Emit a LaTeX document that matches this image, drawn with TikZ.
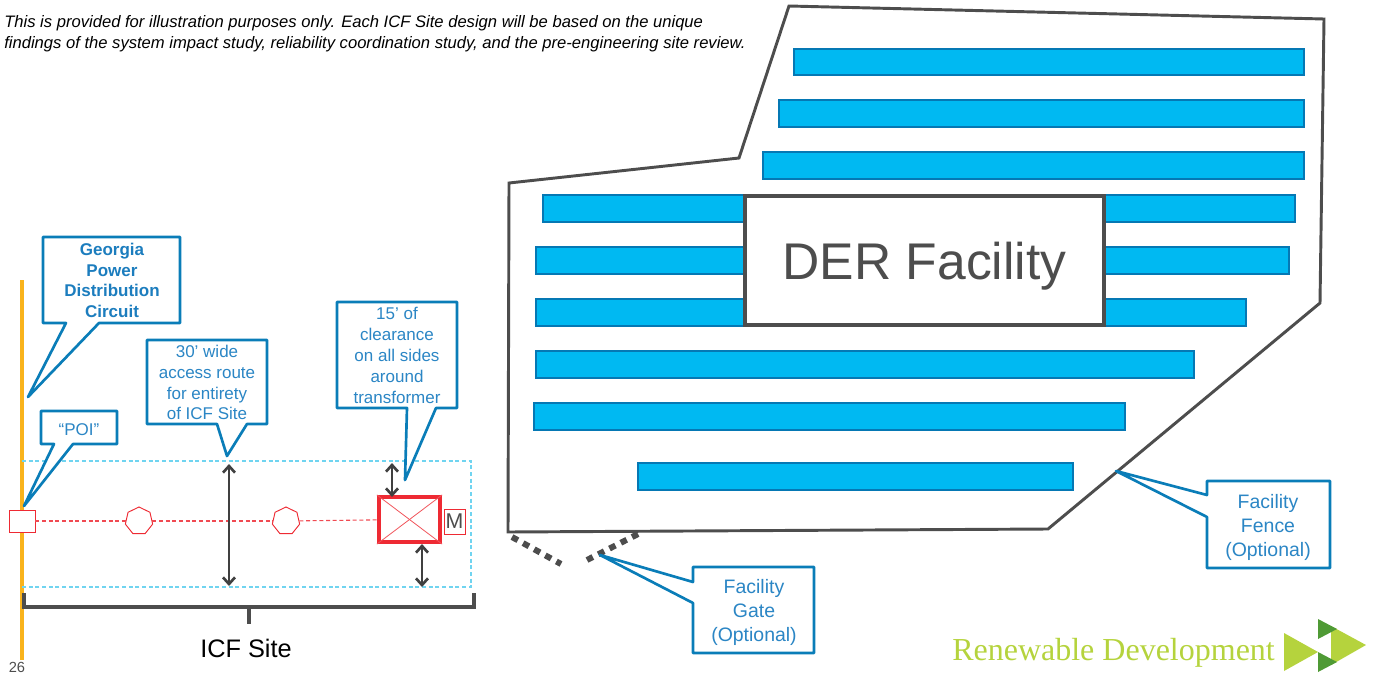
\documentclass[tikz,border=0pt]{standalone}
\usepackage{fontspec}
\setmainfont{Liberation Sans}
\newfontfamily\logofont{Liberation Serif}
\usetikzlibrary{calc, arrows.meta, shapes.geometric}

\definecolor{fenceGray}{HTML}{4D4D4D}
\definecolor{arrowGray}{HTML}{404040}
\definecolor{panelFill}{HTML}{00B9F2}
\definecolor{panelEdge}{HTML}{0578B4}
\definecolor{calloutBlue}{HTML}{0A7DB8}
\definecolor{calloutText}{HTML}{2B86C5}
\definecolor{calloutBold}{HTML}{1C7DBE}
\definecolor{routeBlue}{HTML}{70D4F0}
\definecolor{symbolRed}{HTML}{EE2A33}
\definecolor{circuitOrange}{HTML}{F9B31C}
\definecolor{logoLight}{HTML}{B5D33D}
\definecolor{logoDark}{HTML}{4F9A35}

\tikzset{
	panel/.style = {draw = panelEdge, fill = panelFill, line width = 2.2pt},
	callout/.style = {draw = calloutBlue, fill = white, line width = 2pt, line join = round},
	calloutlabel/.style = {text = calloutText, align = center, font = \fontsize{12.75}{15.7}\selectfont, anchor = center, inner sep = 0pt},
	optionlabel/.style = {calloutlabel, font = \fontsize{14.6}{18}\selectfont},
	recloser/.style = {draw = symbolRed, fill = white, regular polygon, regular polygon sides = 7, minimum size = 28*0.75pt, inner sep = 0pt, line width = 0.7pt},
	span/.style = {draw = arrowGray, line width = 2pt, {Straight Barb[length = 5pt, width = 9pt]}-{Straight Barb[length = 5pt, width = 9pt]}},
	feeder/.style = {symbolRed!85, densely dashed, line width = 0.8pt}
}

\begin{document}
\begin{tikzpicture}[x = 0.75pt, y = -0.75pt]
					\def\xMAX{1375};
					\def\yMAX{675};
					\useasboundingbox (0,0) rectangle (\xMAX,\yMAX);

					\begin{scope}
						\node [anchor = base west, inner sep = 0pt, font = \fontsize{12.45}{15}\itshape] (noteA) at (4,27) {This is provided for illustration purposes only. Each ICF Site design will be based on the unique};
						\node [anchor = base west, inner sep = 0pt, font = \fontsize{12.45}{15}\itshape] (noteB) at (4,48) {findings of the system impact study, reliability coordination study, and the pre-engineering site review.};
					\end{scope}

					% facility side
					\begin{scope}
						\draw [fenceGray, line width = 2.2pt] (789,6) -- (1324,19) -- (1320,303) -- (1048,529) -- (508,532) -- (509,183) -- (739,158) -- cycle;
						\foreach \xA/\xB/\yA/\yB in {794/1304/49/75, 779/1304/100/127, 763/1304/152/179, 543/1295/195/222, 536/1289/247/274, 536/1246/299/326, 536/1194/351/378, 534/1125/403/430, 638/1073/463/490}
							\draw [panel] (\xA,\yA) rectangle (\xB,\yB);
						\node [draw = fenceGray, fill = white, line width = 2.6pt, minimum width = 359*0.75pt, minimum height = 129*0.75pt, inner sep = 0pt, text = fenceGray, text depth = 0pt, font = \fontsize{38.7}{46}\selectfont] (der) at (924.5,260.5) {DER Facility};
						\draw [fenceGray, line width = 4.5pt, dash pattern = on 5pt off 4.5pt] (512,537) -- (561,564);
						\draw [fenceGray, line width = 4.5pt, dash pattern = on 5pt off 4.5pt] (638,534) -- (587,560);
					\end{scope}

					% site strip
					\begin{scope}
						\draw [circuitOrange, line width = 3pt] (22,280) -- (22,660);
						\draw [routeBlue, line width = 0.9pt, densely dashed] (22,461) -- (471,461) -- (471,587) -- (22,587);
						\node [draw = symbolRed, fill = white, minimum width = 26*0.75pt, minimum height = 22*0.75pt, inner sep = 0pt, line width = 0.7pt] (poi) at (22,521) {};
						\node [recloser] (recloserA) at (139,521) {};
						\node [recloser] (recloserB) at (286,521) {};
						\node [draw = symbolRed, fill = white, minimum width = 61*0.75pt, minimum height = 45*0.75pt, inner sep = 0pt, line width = 3.2pt] (transformer) at (409.5,519.5) {};
						\node [draw = symbolRed, fill = white, minimum width = 21*0.75pt, minimum height = 25*0.75pt, inner sep = 0pt, line width = 0.7pt, text = fenceGray, font = \fontsize{16}{16}\selectfont] (meter) at (454.5,521.5) {M};
						\draw [feeder] (poi) -- (recloserA);
						\draw [feeder] (recloserA) -- (recloserB);
						\draw [feeder] (recloserB) -- (transformer);
						\draw [symbolRed!80, line width = 0.6pt] (transformer.north west) -- (transformer.south east);
						\draw [symbolRed!80, line width = 0.6pt] (transformer.north east) -- (transformer.south west);
						\draw [span] (229,464) -- (229,586);
						\draw [span] (392,463) -- (392,497);
						\draw [span] (422,544) -- (422,587);
						\draw [fenceGray, line width = 3.4pt] (24,593) -- (24,607) -- (474,607) -- (474,593);
						\draw [fenceGray, line width = 3.4pt] (249,607) -- (249,624);
						\node [font = \fontsize{19}{22}\selectfont, inner sep = 0pt] (site) at (246,648) {ICF Site};
						\node [text = fenceGray, font = \fontsize{11}{13}\selectfont, inner sep = 0pt] (page) at (17,667) {26};
					\end{scope}

					% callouts
					\begin{scope}
						\coordinate (circuitTip) at (28,397);
						\coordinate (poiTip) at (24,506);
						\coordinate (routeTip) at (227,456);
						\coordinate (clearTip) at (405,480);
						\coordinate (gateTip) at (600,555);
						\coordinate (fenceTip) at (1116,471);

						\draw [callout] (43,237) -- (180,237) -- (180,323) -- (99,323) -- (circuitTip) -- (66,323) -- (43,323) -- cycle;
						\draw [callout] (41,411) -- (117,411) -- (117,444) -- (73,444) -- (poiTip) -- (54,444) -- (41,444) -- cycle;
						\draw [callout] (147,340) -- (267,340) -- (267,424) -- (247,424) -- (routeTip) -- (217,424) -- (147,424) -- cycle;
						\draw [callout] (337,302) -- (457,302) -- (457,408) -- (436,408) -- (clearTip) -- (407,408) -- (337,408) -- cycle;
						\draw [callout] (693,567) -- (814,567) -- (814,653) -- (693,653) -- (693,603) -- (gateTip) -- (693,582) -- cycle;
						\draw [callout] (1207,481) -- (1330,481) -- (1330,568) -- (1207,568) -- (1207,517) -- (fenceTip) -- (1207,495) -- cycle;

						\node [calloutlabel, text = calloutBold, font = \fontsize{12.75}{15.5}\selectfont\bfseries] (circuitLabel) at (112,280.5) {Georgia\\Power\\Distribution\\Circuit};
						\node [calloutlabel] (poiLabel) at (79,430) {``POI''};
						\node [calloutlabel] (routeLabel) at (207,382.5) {30' wide\\access route\\for entirety\\of ICF Site};
						\node [calloutlabel] (clearLabel) at (397,355.5) {15' of\\clearance\\on all sides\\around\\transformer};
						\node [optionlabel] (gateLabel) at (754,612) {Facility\\Gate\\(Optional)};
						\node [optionlabel] (fenceLabel) at (1268,527) {Facility\\Fence\\(Optional)};
					\end{scope}

					% logo
					\begin{scope}
						\node [anchor = base west, inner sep = 0pt, text = logoLight, font = \logofont\fontsize{24}{28}\selectfont] (logo) at (952,660) {Renewable Development};
						\fill [logoLight] (1284,633) -- (1318,652) -- (1284,671) -- cycle;
						\fill [logoLight] (1331,626) -- (1366,645) -- (1331,665) -- cycle;
						\fill [logoDark] (1318,619) -- (1337,629) -- (1318,639) -- cycle;
						\fill [logoDark] (1318,652) -- (1337,662) -- (1318,672) -- cycle;
					\end{scope}
				\end{tikzpicture}
\end{document}
